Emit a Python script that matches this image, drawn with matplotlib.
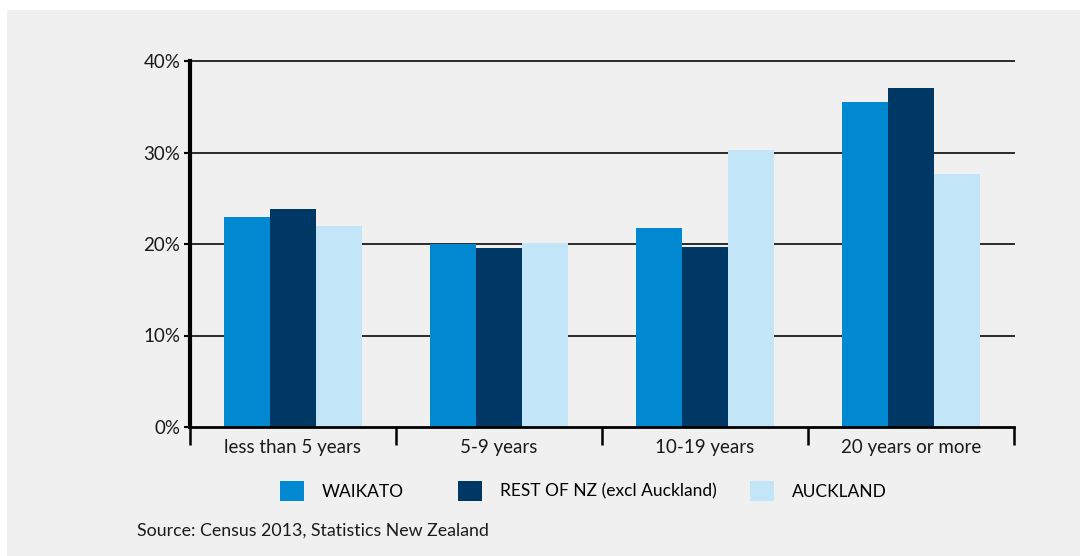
import matplotlib.pyplot as plt
import matplotlib.patches as mpatches
import numpy as np

# Data: share of residents by years lived at current location
categories = ['less than 5 years', '5-9 years', '10-19 years', '20 years or more']
waikato = [23.0, 20.0, 21.8, 35.5]
rest_nz = [23.8, 19.6, 19.7, 37.0]
auckland = [22.0, 20.1, 30.3, 27.7]
series_names = ['WAIKATO', 'REST OF NZ (excl Auckland)', 'AUCKLAND']
yticks = [0, 10, 20, 30, 40]

colors = ['#0088d1', '#003865', '#c2e6f7']
bg = '#f0f0f0'

plt.rcParams['font.family'] = ['Lato', 'DejaVu Sans']

fig = plt.figure(figsize=(10.8, 5.56), dpi=100, facecolor='white')
# grey panel with a thin white margin at top and left
fig.patches.append(mpatches.Rectangle((7 / 1080, 0), 1, 1 - 10 / 556,
                                      transform=fig.transFigure,
                                      facecolor=bg, edgecolor='none', zorder=-10))

ax = fig.add_axes([190 / 1080, 1 - 427 / 556, 824 / 1080, 366 / 556])
ax.set_facecolor(bg)

x = np.arange(len(categories))
w = 0.223
bars = []
for i, (vals, name) in enumerate(zip([waikato, rest_nz, auckland], series_names)):
    bars.append(ax.bar(x + (i - 1) * w, vals, width=w, color=colors[i], label=name, zorder=3))

ax.set_xlim(-0.5, len(categories) - 0.5)
ax.set_ylim(0, 40)

for t in yticks[1:]:
    ax.axhline(t, color='#2a2a2a', lw=1.4, zorder=1, clip_on=False)

ax.set_yticks(yticks)
ax.set_yticklabels([f'{t}%' for t in yticks], fontsize=13.5, color='#1a1a1a')
ax.tick_params(axis='y', length=4, width=1.5, pad=3)

ax.set_xticks(np.arange(-0.5, len(categories), 1.0))
ax.set_xticklabels([])
ax.tick_params(axis='x', which='major', length=13, width=1.8, direction='out')
ax.set_xticks(x, minor=True)
ax.set_xticklabels(categories, minor=True, fontsize=13.5, color='#1a1a1a')
ax.tick_params(axis='x', which='minor', length=0, pad=9)

for s in ['top', 'right']:
    ax.spines[s].set_visible(False)
ax.spines['left'].set_linewidth(3)
ax.spines['bottom'].set_linewidth(2)
ax.spines['left'].set_zorder(4)
ax.spines['bottom'].set_zorder(4)

# one legend entry per series, placed at the reference positions
legend_x = [280, 458, 750]
for b, name, lx in zip(bars, series_names, legend_x):
    leg = fig.legend([b], [name], loc='center left',
                     bbox_to_anchor=(lx / 1080, 1 - 491 / 556),
                     frameon=False, fontsize=12.5, handlelength=1.4, handleheight=1.4,
                     handletextpad=1.0, borderpad=0, borderaxespad=0)

fig.text(137 / 1080, 1 - 531 / 556, 'Source: Census 2013, Statistics New Zealand',
         fontsize=12.8, color='#1a1a1a', va='center', ha='left')

fig.savefig('out.png', dpi=100, facecolor=fig.get_facecolor())
